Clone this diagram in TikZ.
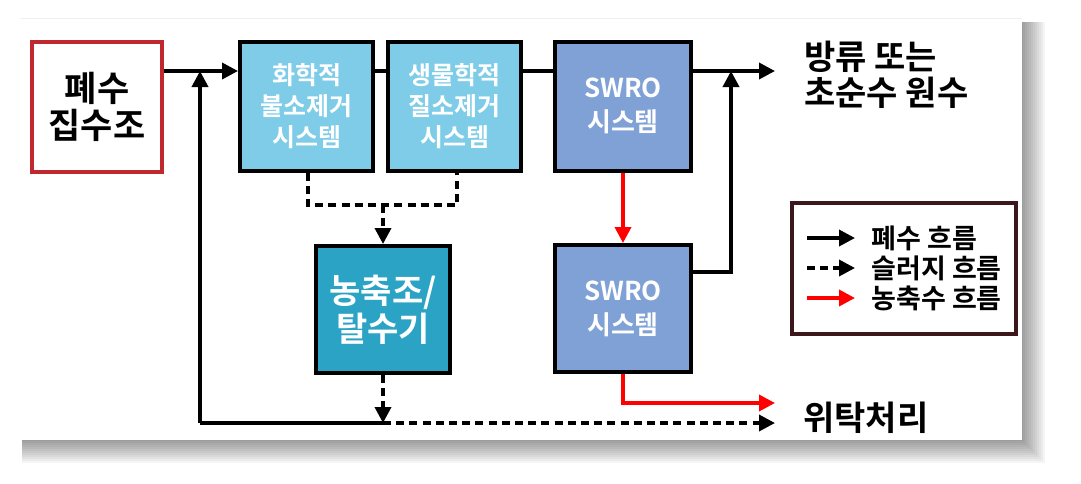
\documentclass[tikz,border=0pt]{standalone}
\usepackage{fontspec}
\setmainfont{Noto Sans CJK KR}[BoldFont={Noto Sans CJK KR Bold}]
\usetikzlibrary{arrows.meta}

\definecolor{chemblue}{RGB}{126,204,232}
\definecolor{roblue}{RGB}{127,161,214}
\definecolor{tankblue}{RGB}{43,163,196}
\definecolor{tankred}{RGB}{192,40,45}
\definecolor{legendbrown}{RGB}{60,24,28}

\tikzset{
  box/.style={draw=black, line width=2pt, minimum width=66.5pt, minimum height=64.5pt,
    align=center, text=white, font=\bfseries\fontsize{12.5}{15.5}\selectfont, inner sep=0pt},
  tip/.style={-{Triangle[length=8pt,width=8pt]}},
  flow/.style={line width=1.8pt, tip},
  line/.style={line width=1.8pt},
  sludge/.style={line width=1.8pt, dash pattern=on 4pt off 2.6pt},
  brine/.style={line width=1.8pt, red, tip},
  bigtext/.style={font=\bfseries\fontsize{17}{18}\selectfont, align=left, inner sep=0pt},
  keytext/.style={anchor=west, inner sep=0pt, font=\bfseries\fontsize{13.5}{14}\selectfont}
}

\begin{document}
\begin{tikzpicture}[x=0.5pt,y=-0.5pt]
\useasboundingbox (0,0) rectangle (1081,483);
\foreach \s in {1,3,...,23} \fill[black,opacity=0.04] (22,22) rectangle (1022+\s,440+\s) ; % shadow
\fill[white] (20,18) rectangle (1022,440) ; % panel
\draw[black!6] (20,18) -- (1022,18) ; % panel top

\node[box, fill=white, draw=tankred, text=black, font=\bfseries\fontsize{17.5}{18.5}\selectfont, minimum width=65pt, minimum height=65pt] (collect) at (97,107) {폐수\\집수조}; % collect
\node[box, fill=chemblue] (chem) at (306.5,106) {화학적\\불소제거\\시스템}; % chem
\node[box, fill=chemblue] (bio) at (454.5,106) {생물학적\\질소제거\\시스템}; % bio
\node[box, fill=roblue, minimum width=68pt, font=\bfseries\fontsize{13}{17}\selectfont] (roA) at (623,106) {SWRO\\시스템}; % roA
\node[box, fill=tankblue, minimum width=67pt, minimum height=63.5pt, font=\bfseries\fontsize{17}{19}\selectfont] (thick) at (383,309.5) {농축조/\\탈수기}; % thick
\node[box, fill=roblue, minimum width=68pt, minimum height=63.5pt, font=\bfseries\fontsize{13}{17}\selectfont] (roB) at (623,308.5) {SWRO\\시스템}; % roB

\node[bigtext, anchor=west] (out) at (804,75) {방류 또는\\초순수 원수}; % out
\node[bigtext, anchor=west] (waste) at (803,418) {위탁처리}; % waste

\coordinate (top) at (0,71) ;
\coordinate (jl) at (200,71) ; % left junction
\coordinate (bl) at (200,423) ; % bottom left
\coordinate (bm) at (383,423) ; % bottom middle
\coordinate (br) at (775,423) ; % bottom end
\coordinate (jr) at (731,71) ; % right junction
\coordinate (rr) at (731,272) ;
\coordinate (oe) at (775,71) ;
\coordinate (dl) at (308,205) ;
\coordinate (dr) at (457,205) ;
\coordinate (dm) at (383,205) ;
\coordinate (rc) at (623,403) ;
\coordinate (re) at (775,403) ;

\draw[flow] (collect.east |- top) -- (chem.west |- top) ; % main in
\draw[line] (chem.east |- top) -- (bio.west |- top) ;
\draw[line] (bio.east |- top) -- (roA.west |- top) ;
\draw[flow] (roA.east |- top) -- (oe) ; % main out
\draw[flow] (bl) -- (jl) ; % return left
\draw[line] (bm) -- (bl) ;
\draw[flow] (roB.east |- rr) -- (rr) -- (jr) ; % return right
\draw[sludge] (dl |- chem.south) -- (dl) -- (dr) -- (dr |- bio.south) ; % sludge
\draw[sludge, tip] (dm) -- (thick.north) ;
\draw[sludge, tip] (thick.south) -- (bm) ;
\draw[sludge, tip] (bm) -- (br) ;
\draw[brine] (roA.south) -- (roB.north) ; % brine
\draw[brine] (roB.south) -- (rc) -- (re) ;

\node[draw=legendbrown, line width=2pt, minimum width=112pt, minimum height=65.5pt] (legend) at (904,268.5) {}; % legend
\coordinate (la) at (807,238) ;
\coordinate (lb) at (807,268) ;
\coordinate (lc) at (807,298) ;
\draw[flow] (la) -- ++(48,0) ;
\draw[sludge, tip] (lb) -- ++(48,0) ;
\draw[brine] (lc) -- ++(48,0) ;
\node[keytext] (ta) at (871,238) {폐수 흐름};
\node[keytext] (tb) at (871,268) {슬러지 흐름};
\node[keytext] (tc) at (871,298) {농축수 흐름};
\end{tikzpicture}
\end{document}
